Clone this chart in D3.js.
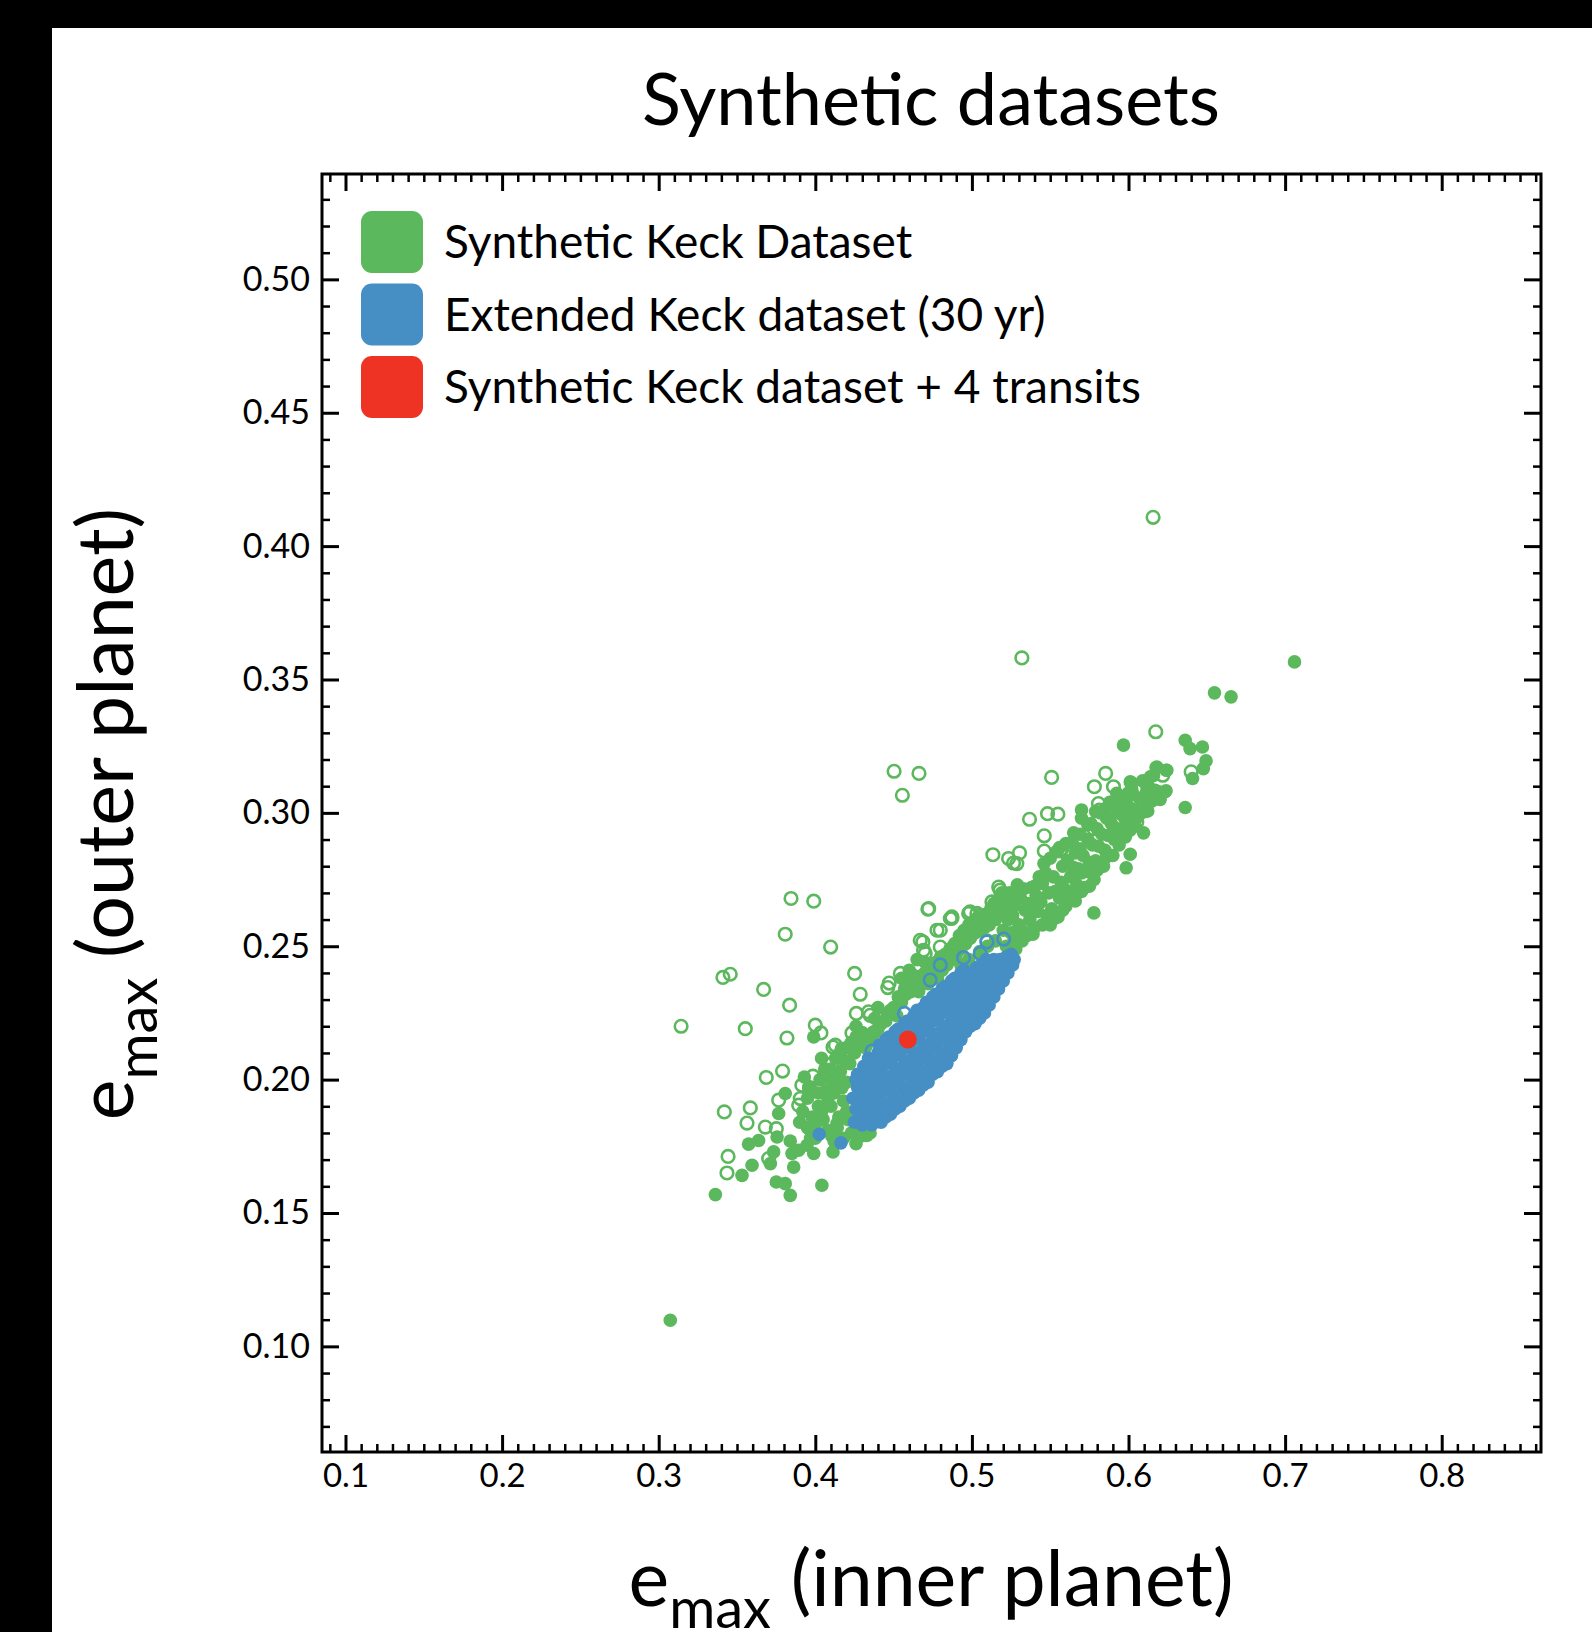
<!DOCTYPE html>
<html lang="en">
<head>
<meta charset="UTF-8">
<title>Synthetic datasets</title>
<style>
body { margin: 0; background: #000; }
svg text { font-family: Lato, "Open Sans", sans-serif; fill: #000; }
.axis .domain { display: none; }
.axis line { stroke: #000; stroke-width: 3; }
.axis.minor line { stroke-width: 2.5; }
</style>
</head>
<body>
<svg width="1592" height="1632"></svg>
<script src="https://d3js.org/d3.v7.min.js"></script>
<script>

var xTicks = [0.1, 0.2, 0.3, 0.4, 0.5, 0.6, 0.7, 0.8];
var yTicks = [0.10, 0.15, 0.20, 0.25, 0.30, 0.35, 0.40, 0.45, 0.50];
var legendLabels = ["Synthetic Keck Dataset", "Extended Keck dataset (30 yr)", "Synthetic Keck dataset + 4 transits"];
var seriesColors = ["#5cb85c", "#468fc4", "#ee3324"];

var greenFilled = [
  [0.3074,0.1098],[0.706,0.3566],[0.6549,0.345],[0.6655,0.3435],
  [0.5968,0.3254],[0.6362,0.3272],[0.6393,0.3241],[0.6472,0.3247],[0.6495,0.3195],[0.6478,0.3166],
  [0.6409,0.3129],[0.6176,0.317],[0.624,0.316],[0.6362,0.302],[0.6021,0.3113],[0.6117,0.3083],
  [0.6206,0.3073],[0.624,0.3083],[0.6202,0.305],[0.5925,0.3073],[0.5968,0.306],[0.6123,0.3007],
  [0.6096,0.2925],[0.6011,0.2845],[0.5985,0.2794],[0.5779,0.2625],[0.57,0.3011],[0.6181,0.3172],
  [0.6245,0.316],[0.6234,0.3079],[0.6192,0.3079],[0.6011,0.3116],
  [0.3362,0.1569],[0.3532,0.1641],[0.3596,0.1679],[0.3713,0.1685],[0.3751,0.1616],[0.3808,0.161],
  [0.384,0.1566],[0.3862,0.1672],[0.4042,0.1604],[0.3574,0.1758],[0.3638,0.1772],[0.3734,0.1729],
  [0.3756,0.1785],[0.384,0.177],[0.3851,0.1723],[0.3894,0.1735],[0.3947,0.1754],[0.399,0.1723],
  [0.3766,0.1873],[0.3808,0.1948],[0.399,0.216],[0.4113,0.1729],[0.4106,0.1788],[0.3968,0.181],
  [0.4329,0.1791],[0.4138,0.1835],
  [0.405,0.185],[0.41,0.19],[0.415,0.186],[0.412,0.195],[0.418,0.192],[0.42,0.199],[0.416,0.203],
  [0.422,0.206],[0.425,0.21],[0.42,0.212],[0.428,0.213],[0.43,0.217],[0.407,0.196],[0.402,0.19],
  [0.398,0.186],[0.395,0.182],[0.4,0.178],[0.403,0.2],[0.41,0.204],[0.413,0.208],[0.395,0.193],
  [0.418,0.178],[0.423,0.18],[0.426,0.176],[0.43,0.179],[0.421,0.185],[0.39,0.184],
  [0.4,0.183],[0.404,0.188],[0.408,0.193],[0.413,0.199],[0.417,0.197],[0.419,0.207],[0.423,0.214],
  [0.426,0.216],[0.416,0.21],[0.41,0.2],[0.406,0.204],[0.404,0.208],[0.414,0.182],[0.42,0.188],
  [0.392,0.188],[0.396,0.197],[0.402,0.195],[0.397,0.178],[0.408,0.181],[0.412,0.177],[0.432,0.184],
  [0.435,0.18],[0.427,0.181],[0.393,0.201],
  [0.432,0.212],[0.436,0.216],[0.44,0.219],[0.438,0.223],[0.445,0.222],[0.448,0.226],[0.452,0.224],
  [0.455,0.229],[0.458,0.232],[0.462,0.236],[0.46,0.241],[0.466,0.233],[0.468,0.239],[0.472,0.236],
  [0.475,0.242],[0.478,0.238],[0.48,0.246],[0.484,0.243],[0.486,0.249],[0.49,0.247],[0.492,0.254],
  [0.496,0.251],[0.498,0.258],[0.502,0.255],[0.505,0.261],[0.508,0.257],[0.512,0.264],[0.515,0.26],
  [0.518,0.268],[0.52,0.263],[0.47,0.244],[0.465,0.245],[0.455,0.238],[0.44,0.227],[0.426,0.22],
  [0.434,0.214],[0.438,0.218],[0.442,0.221],[0.446,0.224],[0.45,0.227],[0.453,0.231],[0.457,0.234],
  [0.461,0.233],[0.463,0.239],[0.467,0.236],[0.47,0.24],[0.473,0.239],[0.477,0.244],[0.481,0.241],
  [0.483,0.247],[0.487,0.245],[0.489,0.251],[0.493,0.249],[0.495,0.256],[0.499,0.253],[0.502,0.26],
  [0.506,0.256],[0.509,0.262],[0.511,0.258],[0.514,0.266],[0.517,0.262],[0.519,0.27],[0.522,0.266],
  [0.515,0.252],[0.52,0.256],[0.51,0.25],[0.505,0.248],[0.498,0.245],[0.493,0.243],
  [0.522,0.25],[0.525,0.255],[0.523,0.26],[0.527,0.265],[0.524,0.27],[0.528,0.249],[0.53,0.258],
  [0.532,0.252],[0.531,0.268],[0.529,0.273],
  [0.535,0.254],[0.537,0.26],[0.536,0.266],[0.538,0.272],[0.54,0.257],[0.542,0.263],[0.541,0.269],
  [0.543,0.276],[0.545,0.258],[0.546,0.281],
  [0.55,0.258],[0.551,0.264],[0.549,0.27],[0.552,0.276],[0.55,0.283],[0.555,0.261],[0.556,0.268],
  [0.557,0.274],[0.558,0.28],[0.556,0.287],[0.56,0.265],
  [0.562,0.27],[0.563,0.276],[0.561,0.282],[0.564,0.289],[0.566,0.267],[0.567,0.273],[0.568,0.279],
  [0.566,0.285],[0.569,0.292],[0.57,0.298],
  [0.572,0.272],[0.573,0.278],[0.571,0.284],[0.574,0.29],[0.576,0.296],[0.578,0.275],[0.579,0.282],
  [0.577,0.288],[0.58,0.294],[0.582,0.3],
  [0.584,0.28],[0.585,0.286],[0.583,0.292],[0.586,0.298],[0.588,0.304],[0.59,0.284],[0.591,0.29],
  [0.589,0.296],[0.592,0.302],
  [0.594,0.288],[0.595,0.294],[0.593,0.3],[0.596,0.306],[0.598,0.291],[0.6,0.297],[0.599,0.303],
  [0.602,0.309],[0.604,0.295],[0.605,0.301],[0.603,0.307],
  [0.608,0.3],[0.61,0.306],[0.609,0.312],[0.612,0.303],[0.614,0.309],[0.616,0.314],
  [0.527,0.2525],[0.526,0.2615],[0.528,0.269],[0.533,0.2555],[0.534,0.2635],[0.533,0.2715],
  [0.539,0.2545],[0.539,0.2635],[0.54,0.2725],[0.544,0.2665],[0.545,0.2735],[0.548,0.2615],
  [0.547,0.2775],[0.553,0.2605],[0.553,0.2705],[0.554,0.2855],[0.558,0.2635],[0.559,0.2715],
  [0.56,0.2885],[0.563,0.2675],[0.565,0.2795],[0.565,0.2925],[0.57,0.2705],[0.57,0.2775],
  [0.569,0.2865],[0.575,0.2725],[0.575,0.2815],[0.574,0.2955],[0.58,0.2785],[0.581,0.2875],
  [0.579,0.3005],[0.586,0.2835],[0.587,0.2915],[0.585,0.3015],[0.591,0.2945],[0.59,0.3025],
  [0.595,0.2905],[0.597,0.2985],[0.596,0.3035],[0.601,0.2935],[0.602,0.3015],[0.6,0.3075],
  [0.606,0.2985],[0.607,0.3055],[0.611,0.3005],[0.612,0.3095],[0.615,0.3045],[0.614,0.3135],
  [0.617,0.3085]
];

var greenOpen = [
  [0.6157,0.4108],[0.5319,0.3581],[0.4503,0.3156],[0.4662,0.3148],[0.4556,0.3066],
  [0.6174,0.3304],[0.64,0.3154],[0.6219,0.3141],[0.5509,0.3133],[0.5854,0.3148],[0.5782,0.3098],
  [0.5904,0.3098],[0.6046,0.3029],[0.5368,0.2976],[0.5483,0.2997],[0.5549,0.2995],[0.5462,0.2914],
  [0.5808,0.3035],[0.5814,0.301],[0.5134,0.2843],[0.5304,0.285],[0.5234,0.2829],[0.5266,0.2812],
  [0.5462,0.2857],[0.5564,0.2857],[0.5575,0.2866],[0.6053,0.2966],[0.5777,0.2941],[0.4872,0.261],
  [0.4989,0.2629],[0.5053,0.2616],[0.5171,0.2722],[0.5128,0.2666],[0.4798,0.256],
  [0.4719,0.2639],[0.4777,0.256],[0.4872,0.2604],[0.5287,0.281],[0.4687,0.2516],[0.4691,0.2485],
  [0.4979,0.2623],[0.5032,0.2623],[0.467,0.2522],[0.4798,0.2497],[0.5096,0.252],[0.518,0.271],
  [0.3845,0.2679],[0.399,0.2669],[0.3808,0.2545],[0.4098,0.2497],[0.341,0.2383],[0.3457,0.2395],
  [0.367,0.2338],[0.3836,0.2279],[0.3143,0.22],[0.3553,0.2191],[0.3819,0.2156],[0.4251,0.2398],
  [0.4287,0.232],[0.4472,0.2362],[0.4463,0.2345],[0.4543,0.2398],[0.4,0.2204],[0.4036,0.2175],
  [0.3687,0.2008],[0.3791,0.2032],[0.4113,0.2122],[0.417,0.2113],[0.4234,0.2175],[0.4262,0.2248],
  [0.434,0.2254],[0.4351,0.2241],[0.4298,0.2173],[0.4372,0.2175],[0.4128,0.2129],[0.4107,0.206],
  [0.3985,0.2013],[0.4075,0.2032],[0.3914,0.1979],[0.3963,0.197],[0.3766,0.1923],[0.3585,0.1894],
  [0.3419,0.1879],[0.3564,0.1837],[0.3894,0.1904],[0.3904,0.1929],[0.3681,0.1822],[0.3751,0.1816],
  [0.3443,0.1712],[0.3436,0.165],[0.3702,0.1704],[0.4702,0.2473],[0.468,0.2366],[0.4724,0.2641],
  [0.4862,0.2604]
];

var blueFilled = [
  [0.4025,0.1795],[0.4164,0.1763],
  [0.425,0.184],[0.426,0.189],[0.424,0.193],[0.427,0.197],[0.426,0.2],
  [0.43,0.183],[0.431,0.188],[0.429,0.192],[0.432,0.196],[0.43,0.201],[0.431,0.205],
  [0.436,0.183],[0.437,0.187],[0.435,0.192],[0.438,0.197],[0.436,0.202],[0.437,0.207],
  [0.442,0.184],[0.443,0.189],[0.441,0.194],[0.444,0.199],[0.442,0.204],[0.443,0.209],[0.441,0.213],
  [0.448,0.187],[0.449,0.192],[0.447,0.197],[0.45,0.202],[0.448,0.207],[0.449,0.212],[0.447,0.216],
  [0.454,0.19],[0.455,0.195],[0.453,0.2],[0.456,0.205],[0.454,0.21],[0.455,0.215],[0.453,0.219],
  [0.46,0.193],[0.461,0.198],[0.459,0.203],[0.462,0.208],[0.46,0.213],[0.461,0.218],[0.459,0.222],
  [0.466,0.196],[0.467,0.201],[0.465,0.206],[0.468,0.211],[0.466,0.216],[0.467,0.221],[0.465,0.226],
  [0.472,0.199],[0.473,0.204],[0.471,0.209],[0.474,0.214],[0.472,0.219],[0.473,0.224],[0.471,0.229],
  [0.478,0.203],[0.479,0.208],[0.477,0.213],[0.48,0.218],[0.478,0.223],[0.479,0.228],[0.477,0.232],
  [0.484,0.206],[0.485,0.211],[0.483,0.216],[0.486,0.221],[0.484,0.226],[0.485,0.231],[0.483,0.235],
  [0.49,0.212],[0.491,0.216],[0.489,0.22],[0.492,0.225],[0.49,0.23],[0.491,0.234],[0.489,0.238],
  [0.496,0.218],[0.497,0.222],[0.495,0.226],[0.498,0.23],[0.496,0.234],[0.497,0.238],[0.495,0.241],
  [0.502,0.221],[0.503,0.225],[0.501,0.229],[0.504,0.233],[0.502,0.237],[0.503,0.242],
  [0.508,0.225],[0.509,0.229],[0.507,0.233],[0.51,0.237],[0.508,0.241],[0.509,0.245],
  [0.514,0.231],[0.515,0.235],[0.513,0.239],[0.516,0.242],[0.514,0.245],
  [0.52,0.237],[0.521,0.24],[0.519,0.243],[0.522,0.246],
  [0.526,0.243],[0.527,0.245],[0.525,0.247],
  [0.428,0.186],[0.428,0.191],[0.428,0.195],[0.428,0.199],[0.427,0.202],
  [0.433,0.185],[0.434,0.19],[0.433,0.194],[0.434,0.199],[0.433,0.204],[0.434,0.208],
  [0.439,0.185],[0.44,0.19],[0.439,0.195],[0.44,0.2],[0.439,0.205],[0.44,0.21],
  [0.445,0.186],[0.446,0.191],[0.445,0.196],[0.446,0.201],[0.445,0.206],[0.446,0.211],[0.445,0.215],
  [0.451,0.189],[0.452,0.194],[0.451,0.199],[0.452,0.204],[0.451,0.209],[0.452,0.214],[0.451,0.218],
  [0.457,0.192],[0.458,0.197],[0.457,0.202],[0.458,0.207],[0.457,0.212],[0.458,0.217],[0.457,0.221],
  [0.463,0.195],[0.464,0.2],[0.463,0.205],[0.464,0.21],[0.463,0.215],[0.464,0.22],[0.463,0.224],
  [0.469,0.198],[0.47,0.203],[0.469,0.208],[0.47,0.213],[0.469,0.218],[0.47,0.223],[0.469,0.227],
  [0.475,0.202],[0.476,0.207],[0.475,0.212],[0.476,0.217],[0.475,0.222],[0.476,0.227],[0.475,0.231],
  [0.481,0.205],[0.482,0.21],[0.481,0.215],[0.482,0.22],[0.481,0.225],[0.482,0.23],[0.481,0.234],
  [0.487,0.209],[0.488,0.214],[0.487,0.218],[0.488,0.223],[0.487,0.228],[0.488,0.233],[0.487,0.237],
  [0.493,0.215],[0.494,0.219],[0.493,0.223],[0.494,0.228],[0.493,0.232],[0.494,0.236],[0.493,0.24],
  [0.499,0.22],[0.5,0.224],[0.499,0.228],[0.5,0.232],[0.499,0.236],[0.5,0.24],
  [0.505,0.223],[0.506,0.227],[0.505,0.231],[0.506,0.235],[0.505,0.239],[0.506,0.243],
  [0.511,0.228],[0.512,0.232],[0.511,0.236],[0.512,0.24],[0.511,0.244],
  [0.517,0.234],[0.518,0.238],[0.517,0.241],[0.518,0.245],
  [0.523,0.24],[0.524,0.244]
];

var blueOpen = [
  [0.5203,0.2527],[0.5096,0.2516],[0.4798,0.243],[0.4734,0.2373],[0.4947,0.2457],
  [0.5053,0.2473],[0.4569,0.2248],[0.4362,0.2107]
];

var redFilled = [[0.4591,0.215]];

var svg = d3.select("svg"),
    margin = {top: 174, left: 322},
    width = 1219,
    height = 1278,
    g = svg.append("g").attr("transform", "translate(" + margin.left + "," + margin.top + ")");

svg.insert("rect", "g").attr("x", 52).attr("y", 28).attr("width", 1540).attr("height", 1604).attr("fill", "#fff");

var x = d3.scaleLinear().domain([0.085, 0.8634]).range([0, width]);
var y = d3.scaleLinear().domain([0.0604, 0.5395]).range([height, 0]);

var xMinor = d3.range(9, 87).filter(function(d) { return d % 10 != 0; }).map(function(d) { return d / 100; });
var yMinor = d3.range(7, 54).filter(function(d) { return d % 5 != 0; }).map(function(d) { return d / 100; });

// inward ticks on all four sides
function addAxis(axis, cls, tr) {
  var a = g.append("g").attr("class", "axis " + cls).call(axis);
  if (tr) a.attr("transform", tr);
  return a;
}
addAxis(d3.axisBottom(x).tickValues(xMinor).tickSize(-8).tickFormat(""), "minor", "translate(0," + height + ")");
addAxis(d3.axisTop(x).tickValues(xMinor).tickSize(-8).tickFormat(""), "minor");
addAxis(d3.axisLeft(y).tickValues(yMinor).tickSize(-8).tickFormat(""), "minor");
addAxis(d3.axisRight(y).tickValues(yMinor).tickSize(-8).tickFormat(""), "minor", "translate(" + width + ",0)");

addAxis(d3.axisBottom(x).tickValues(xTicks).tickSize(-17).tickPadding(12).tickFormat(d3.format(".1f")), "major", "translate(0," + height + ")")
  .selectAll("text").attr("font-size", 33);
addAxis(d3.axisTop(x).tickValues(xTicks).tickSize(-17).tickFormat(""), "major");
addAxis(d3.axisLeft(y).tickValues(yTicks).tickSize(-17).tickPadding(12).tickFormat(d3.format(".2f")), "major")
  .selectAll("text").attr("font-size", 34);
addAxis(d3.axisRight(y).tickValues(yTicks).tickSize(-17).tickFormat(""), "major", "translate(" + width + ",0)");

// points
var pts = g.append("g");
function dots(data, color, open, r) {
  pts.append("g").selectAll("circle")
    .data(data)
    .enter().append("circle")
      .attr("cx", function(d) { return x(d[0]); })
      .attr("cy", function(d) { return y(d[1]); })
      .attr("r", r)
      .attr("fill", open ? "none" : color)
      .attr("stroke", open ? color : "none")
      .attr("stroke-width", 2.6);
}
dots(greenFilled, seriesColors[0], false, 6.8);
dots(greenOpen, seriesColors[0], true, 6.3);
dots(blueFilled, seriesColors[1], false, 6.8);
dots(blueOpen, seriesColors[1], true, 6.3);
dots(redFilled, seriesColors[2], false, 9);

g.append("rect")
  .attr("width", width).attr("height", height)
  .attr("fill", "none").attr("stroke", "#000").attr("stroke-width", 3);

// legend
var legend = g.append("g")
  .selectAll("g")
  .data(legendLabels)
  .enter().append("g")
    .attr("transform", function(d, i) { return "translate(39," + (37 + i * 72.5) + ")"; });

legend.append("rect")
  .attr("width", 62).attr("height", 62).attr("rx", 11)
  .attr("fill", function(d, i) { return seriesColors[i]; });

legend.append("text")
  .attr("x", 83).attr("y", 47)
  .attr("font-size", 46)
  .text(function(d) { return d; });

// title and axis labels
svg.append("text")
  .attr("x", 931).attr("y", 125)
  .attr("text-anchor", "middle")
  .attr("font-size", 72)
  .text("Synthetic datasets");

var xl = svg.append("text")
  .attr("x", 931).attr("y", 1606)
  .attr("text-anchor", "middle")
  .attr("font-size", 77);
xl.append("tspan").text("e");
xl.append("tspan").attr("font-size", 56).attr("dy", 22).text("max");
xl.append("tspan").attr("dy", -22).text(" (inner planet)");

var yl = svg.append("text")
  .attr("transform", "translate(133,814) rotate(-90)")
  .attr("text-anchor", "middle")
  .attr("font-size", 77);
yl.append("tspan").text("e");
yl.append("tspan").attr("font-size", 56).attr("dy", 24).text("max");
yl.append("tspan").attr("dy", -24).text(" (outer planet)");

</script>
</body>
</html>
